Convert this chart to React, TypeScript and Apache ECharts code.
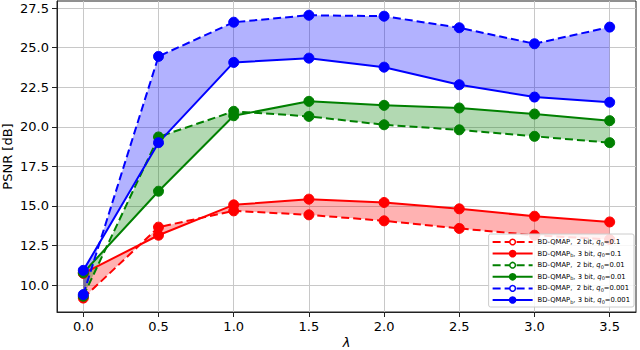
import React, { useEffect, useRef } from "react";
import * as echarts from "echarts";

const lambdas = [0, 0.5, 1.0, 1.5, 2.0, 2.5, 3.0, 3.5];
const red2bit = [9.18, 13.66, 14.69, 14.44, 14.06, 13.58, 13.15, 12.88];
const red3bit = [10.74, 13.15, 15.07, 15.43, 15.22, 14.82, 14.35, 13.99];
const green2bit = [9.3, 19.36, 20.98, 20.66, 20.13, 19.81, 19.4, 19.0];
const green3bit = [10.78, 15.93, 20.7, 21.61, 21.36, 21.19, 20.81, 20.39];
const blue2bit = [9.4, 24.45, 26.61, 27.05, 26.99, 26.26, 25.25, 26.3];
const blue3bit = [10.93, 19.0, 24.07, 24.34, 23.77, 22.66, 21.88, 21.55];

const xTicks = [0, 0.5, 1.0, 1.5, 2.0, 2.5, 3.0, 3.5];
const yTicks = [10, 12.5, 15, 17.5, 20, 22.5, 25, 27.5];

const names = [
  "BD-QMAP,  2 bit, q0=0.1",
  "BD-QMAPb, 3 bit, q0=0.1",
  "BD-QMAP,  2 bit, q0=0.01",
  "BD-QMAPb, 3 bit, q0=0.01",
  "BD-QMAP,  2 bit, q0=0.001",
  "BD-QMAPb, 3 bit, q0=0.001",
];
const richNames: Record<string, string> = {
  [names[0]]: "BD-QMAP,  2 bit, {it|q}{sub|0}=0.1",
  [names[1]]: "BD-QMAP{sub|b}, 3 bit, {it|q}{sub|0}=0.1",
  [names[2]]: "BD-QMAP,  2 bit, {it|q}{sub|0}=0.01",
  [names[3]]: "BD-QMAP{sub|b}, 3 bit, {it|q}{sub|0}=0.01",
  [names[4]]: "BD-QMAP,  2 bit, {it|q}{sub|0}=0.001",
  [names[5]]: "BD-QMAP{sub|b}, 3 bit, {it|q}{sub|0}=0.001",
};

const RED = "#ff0000";
const GREEN = "#008000";
const BLUE = "#0000ff";
const legendColors = [RED, RED, GREEN, GREEN, BLUE, BLUE];

function pairs(vals: number[]) {
  return lambdas.map((x, i) => [x, vals[i]]);
}

function lineSeries(name: string, vals: number[], color: string, dashed: boolean) {
  return {
    type: "line",
    name,
    data: pairs(vals),
    symbol: "circle",
    symbolSize: 10,
    z: 3,
    lineStyle: { color, width: 2, type: dashed ? [8, 4] : "solid" },
    itemStyle: { color, borderColor: color, borderWidth: 1 },
  };
}

function bandSeries(a: number[], b: number[], fill: string) {
  return {
    type: "custom",
    coordinateSystem: "cartesian2d",
    data: [[lambdas[0], a[0]]],
    z: 1,
    silent: true,
    renderItem: (_params: any, api: any) => {
      const top = a.map((v, i) => api.coord([lambdas[i], v]));
      const bot = b.map((v, i) => api.coord([lambdas[i], v])).reverse();
      return {
        type: "polygon",
        shape: { points: top.concat(bot) },
        style: { fill, stroke: "none" },
      };
    },
  };
}

const isTick = (v: number, step: number) => Math.abs(v / step - Math.round(v / step)) < 1e-6;

export default function App() {
  const ref = useRef<HTMLDivElement>(null);
  useEffect(() => {
    if (!ref.current) return;
    const chart = echarts.init(ref.current, undefined, { renderer: "svg" });
    chart.setOption({
      animation: false,
      backgroundColor: "#ffffff",
      textStyle: { fontFamily: "DejaVu Sans" },
      grid: {
        left: 57,
        right: 4,
        top: 1,
        bottom: 38,
        containLabel: false,
        outerBoundsMode: "none",
        show: true,
        borderColor: "#222222",
        borderWidth: 1,
        backgroundColor: "transparent",
      },
      legend: {
        right: 6,
        bottom: 43,
        orient: "vertical",
        align: "left",
        itemWidth: 40,
        itemHeight: 7,
        itemGap: 3.6,
        padding: [4, 4, 3, 3],
        backgroundColor: "rgba(255,255,255,0.85)",
        borderColor: "#cccccc",
        borderWidth: 1,
        borderRadius: 2,
        selectedMode: false,
        data: names.map((n, i) =>
          i % 2 === 0
            ? { name: n, itemStyle: { color: "#ffffff", borderColor: legendColors[i], borderWidth: 1.5 } }
            : { name: n }
        ),
        formatter: (n: string) => richNames[n] || n,
        textStyle: {
          fontFamily: "DejaVu Sans",
          fontSize: 6.8,
          color: "#000",
          lineHeight: 8,
          rich: {
            it: { fontStyle: "italic", fontSize: 6.8, fontFamily: "DejaVu Sans", lineHeight: 8 },
            sub: { fontSize: 5, fontFamily: "DejaVu Sans", verticalAlign: "bottom", lineHeight: 8 },
          },
        },
      },
      xAxis: {
        type: "value",
        min: -0.175,
        max: 3.675,
        splitNumber: 8,
        minInterval: 0.5,
        maxInterval: 0.5,
        name: "λ",
        nameLocation: "middle",
        nameMoveOverlap: false,
        nameGap: 24,
        nameTextStyle: { fontSize: 13, fontStyle: "italic", color: "#000", fontFamily: "DejaVu Sans" },
        axisLine: { show: true, onZero: false, lineStyle: { color: "#222", width: 1 } },
        axisTick: { show: true, length: 5, lineStyle: { color: "#222" }, customValues: xTicks },
        axisLabel: {
          fontSize: 13,
          color: "#000",
          margin: 8,
          customValues: xTicks,
          formatter: (v: number) => (isTick(v, 0.5) ? v.toFixed(1) : ""),
        },
        splitLine: { show: true, lineStyle: { color: "#c8c8c8", width: 1 } },
      },
      yAxis: {
        type: "value",
        min: 8.3,
        max: 27.95,
        splitNumber: 8,
        minInterval: 2.5,
        maxInterval: 2.5,
        name: "PSNR [dB]",
        nameLocation: "middle",
        nameMoveOverlap: false,
        nameRotate: 90,
        nameGap: 43,
        nameTextStyle: { fontSize: 13, color: "#000", fontFamily: "DejaVu Sans" },
        axisLine: { show: true, onZero: false, lineStyle: { color: "#222", width: 1 } },
        axisTick: { show: true, length: 5, lineStyle: { color: "#222" }, customValues: yTicks },
        axisLabel: {
          fontSize: 13,
          color: "#000",
          margin: 8,
          customValues: yTicks,
          formatter: (v: number) => (isTick(v, 2.5) ? v.toFixed(1) : ""),
        },
        splitLine: { show: true, lineStyle: { color: "#c8c8c8", width: 1 } },
      },
      series: [
        bandSeries(red2bit, red3bit, "rgba(255,0,0,0.3)"),
        bandSeries(green2bit, green3bit, "rgba(0,128,0,0.3)"),
        bandSeries(blue2bit, blue3bit, "rgba(0,0,255,0.3)"),
        lineSeries(names[0], red2bit, RED, true),
        lineSeries(names[1], red3bit, RED, false),
        lineSeries(names[2], green2bit, GREEN, true),
        lineSeries(names[3], green3bit, GREEN, false),
        lineSeries(names[4], blue2bit, BLUE, true),
        lineSeries(names[5], blue3bit, BLUE, false),
      ],
    });
    return () => chart.dispose();
  }, []);
  return (
    <div
      ref={ref}
      style={{ position: "fixed", left: 0, top: 0, width: 640, height: 350 }}
    />
  );
}
